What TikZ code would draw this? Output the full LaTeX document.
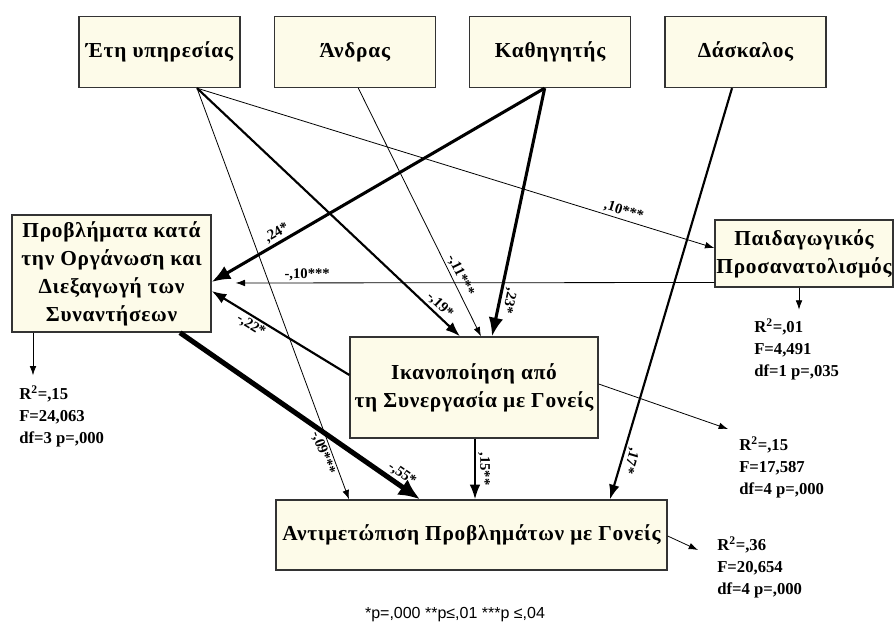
\documentclass[tikz,border=0pt]{standalone}
\usepackage{fontspec}
\setmainfont{Liberation Serif}
\setsansfont{Liberation Sans}
\newfontfamily\boxfont[LetterSpace=3.5]{Liberation Serif}
\usepackage{tikz}
\usetikzlibrary{arrows.meta, positioning}

\begin{document}
\begin{tikzpicture}[->,>={Latex[length=7pt,width=5pt]},x=0.75pt,y=-0.75pt,node distance=24.75pt]
                \tikzstyle{var}=[draw=black!80,line width=1pt,fill={rgb,255:red,253;green,251;blue,233},font=\boxfont\fontsize{16}{21}\selectfont\bfseries,align=center,inner sep=1pt]
                \tikzstyle{topvar}=[var,minimum width=120.75pt,minimum height=53.25pt]
                \tikzstyle{stat}=[font=\fontsize{12.5}{16.5}\selectfont\bfseries,align=left,inner sep=0pt,anchor=north west]
                \tikzstyle{coef}=[font=\fontsize{11}{12}\selectfont\bfseries,sloped,inner sep=1.5pt]
                \tikzstyle{weakpath}=[line width=0.6pt]
                \tikzstyle{midpath}=[line width=1.6pt,-{Latex[length=11pt,width=8pt]}]
                \tikzstyle{strongpath}=[line width=2.3pt,-{Latex[length=14pt,width=11pt]}]
                \tikzstyle{heavypath}=[line width=3.8pt,-{Latex[length=16pt,width=14pt]}]

                \useasboundingbox (0,0) rectangle (896,624);

                \node[topvar]               (ety)    at (159.5,52)     {Έτη υπηρεσίας};
                \node[topvar]               (andras) [right=of ety]    {Άνδρας};
                \node[topvar]               (kath)   [right=of andras] {Καθηγητής};
                \node[topvar]               (dask)   [right=of kath]   {Δάσκαλος};
                \node[var,minimum width=149.25pt,minimum height=87.75pt] (prob)  at (111.5,273.5) {Προβλήματα κατά\\την Οργάνωση και\\Διεξαγωγή των\\Συναντήσεων};
                \node[var,minimum width=133.5pt,minimum height=50.25pt]  (paid)  at (804,253.5)   {Παιδαγωγικός\\Προσανατολισμός};
                \node[var,minimum width=186pt,minimum height=75.75pt]    (ikan)  at (474,387.5)   {Ικανοποίηση από\\τη Συνεργασία με Γονείς};
                \node[var,minimum width=293.25pt,minimum height=52.5pt]  (antim) at (471.5,535)   {Αντιμετώπιση Προβλημάτων με Γονείς};

                \node[stat] (st1) at (19,386)  {R\textsuperscript{2}=,15\\F=24,063\\df=3 p=,000};
                \node[stat] (st2) at (754,319) {R\textsuperscript{2}=,01\\F=4,491\\df=1 p=,035};
                \node[stat] (st3) at (739,437) {R\textsuperscript{2}=,15\\F=17,587\\df=4 p=,000};
                \node[stat] (st4) at (717,537) {R\textsuperscript{2}=,36\\F=20,654\\df=4 p=,000};
                \node[font=\sffamily\fontsize{12}{14}\selectfont] (note) at (455,615) {*p=,000 **p≤,01 ***p ≤,04};

                \path
                ([shift={(37.5,0)}]ety.south)    edge[weakpath]   node[coef,above,pos=0.82]  {,10***}  ([shift={(0,-5.5)}]paid.west)
                ([shift={(37.5,0)}]ety.south)    edge[midpath]    node[coef,above,pos=0.9]   {-,19*}   ([shift={(-14,0)}]ikan.north)
                ([shift={(37.5,0)}]ety.south)    edge[weakpath]   node[coef,below,pos=0.88]  {-,09***} ([shift={(-122.5,0)}]antim.north)
                ([shift={(3.5,0)}]andras.south)  edge[weakpath]   node[coef,above,pos=0.77]  {-,11***} ([shift={(7,0)}]ikan.north)
                ([shift={(-5.5,0)}]kath.south)   edge[strongpath] node[coef,above,pos=0.79]  {,24*}    ([shift={(0,8.5)}]prob.east)
                ([shift={(-5.5,0)}]kath.south)   edge[strongpath] node[coef,above,pos=0.85,allow upside down] {,23*} ([shift={(18,0)}]ikan.north)
                ([shift={(-13.5,0)}]dask.south)  edge[midpath]    node[coef,above,pos=0.9,allow upside down]  {,17*} ([shift={(138.5,0)}]antim.north)
                ([shift={(0,29)}]paid.west)      edge[weakpath,shorten >=18pt] node[coef,above,pos=0.81,sloped=false] {-,10***} ([shift={(0,9.5)}]prob.east)
                ([shift={(0,-12.5)}]ikan.west)   edge[midpath]    node[coef,below,pos=0.68]  {-,22*}   ([shift={(0,17.5)}]prob.east)
                ([shift={(1,0)}]ikan.south)      edge[midpath]    node[coef,above,pos=0.5]   {,15**}   ([shift={(3.5,0)}]antim.north)
                ([shift={(68.5,0)}]prob.south)   edge[heavypath]  node[coef,above,pos=0.9]   {-,55*}   ([shift={(-51.5,0)}]antim.north);

                \draw[weakpath,shorten >=8pt] ([shift={(-78.5,0)}]prob.south) -- ([shift={(-78.5,0)}]prob.south |- st1.north);
                \draw[weakpath,shorten >=7pt] ([shift={(-5,0)}]paid.south) -- ([shift={(-5,0)}]paid.south |- st2.north);
                \draw[weakpath] ([shift={(0,-3.5)}]ikan.east) -- ([shift={(-11,-8)}]st3.north west);
                \draw[weakpath] ([shift={(0,1)}]antim.east) -- ([shift={(-19,13)}]st4.north west);
            \end{tikzpicture}
\end{document}
